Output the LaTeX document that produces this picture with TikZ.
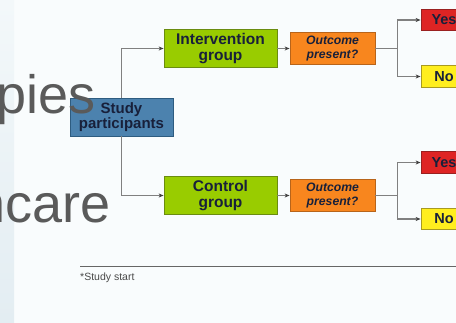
\documentclass[tikz,border=0pt]{standalone}
\usepackage{fontspec}
\setmainfont{Liberation Sans}
\usepackage{tikz}
\usetikzlibrary{arrows.meta, positioning, calc}

\definecolor{slideBack}{HTML}{F9FCFD}
\definecolor{stripTop}{HTML}{F3F8FA}
\definecolor{stripBottom}{HTML}{E3EDF2}
\definecolor{slideGray}{HTML}{5A5A5A}
\definecolor{studyBlue}{HTML}{4C82AE}
\definecolor{studyEdge}{HTML}{2E5C80}
\definecolor{groupGreen}{HTML}{99CC00}
\definecolor{groupEdge}{HTML}{6A8C10}
\definecolor{outcomeOrange}{HTML}{F8861E}
\definecolor{outcomeEdge}{HTML}{B8641A}
\definecolor{yesRed}{HTML}{DE2424}
\definecolor{yesEdge}{HTML}{9A2020}
\definecolor{noYellow}{HTML}{FFEE1E}
\definecolor{noEdge}{HTML}{A89A20}
\definecolor{boxText}{HTML}{18203A}
\definecolor{linkGray}{HTML}{808080}
\definecolor{noteGray}{HTML}{4A4A4A}

\begin{document}
\begin{tikzpicture}[x=1pt, y=-1pt,
    box/.style={draw, line width=0.8pt, inner sep=0pt, align=center, text=boxText},
    groupbox/.style={box, minimum width=113pt, minimum height=38pt,
        font=\fontsize{15.5}{16}\selectfont\bfseries},
    outbox/.style={box, fill=outcomeOrange, draw=outcomeEdge, minimum width=85pt, minimum height=32pt,
        font=\fontsize{12.2}{13.5}\selectfont\bfseries\itshape},
    answer/.style={box, minimum width=46pt, minimum height=21.5pt,
        font=\fontsize{14.5}{16}\selectfont\bfseries},
    link/.style={draw=linkGray, line width=1.2pt, -{Stealth[length=5pt, width=4pt, color=black!75]}}]
    % ══ FONDO ══
    \clip (0,0) rectangle (456,323);
    \fill[slideBack] (0,0) rectangle (456,323);
    \shade[top color=stripTop, bottom color=stripBottom] (0,0) rectangle (14,323);

    % ══ CAJAS ══
    \node[box, fill=studyBlue, draw=studyEdge, minimum width=103pt, minimum height=38pt,
        font=\fontsize{15}{15}\selectfont\bfseries] (study) at (121.5,117) {Study\\participants};

    \node[groupbox, fill=groupGreen, draw=groupEdge] (inter) at (220.5,48.5) {Intervention\\group};
    \node[groupbox, fill=groupGreen, draw=groupEdge] (control) at (220.5,195.5) {Control\\group};

    \node[outbox] (outInter) at (332.5,48.5) {Outcome\\present?};
    \node[outbox] (outControl) at (332.5,195.5) {Outcome\\present?};

    \node[answer, fill=yesRed, draw=yesEdge] (yesInter) at (444,20) {Yes};
    \node[answer, fill=noYellow, draw=noEdge] (noInter) at (444,76.5) {No};
    \node[answer, fill=yesRed, draw=yesEdge] (yesControl) at (444,162.5) {Yes};
    \node[answer, fill=noYellow, draw=noEdge] (noControl) at (444,219) {No};

    % ══ CONECTORES ══
    \draw[link] (study.north) |- (inter.west);
    \draw[link] (study.south) |- (control.west);
    \draw[link] (inter.east) -- (outInter.west);
    \draw[link] (control.east) -- (outControl.west);

    % Bifurcaciones Yes / No
    \draw[draw=linkGray, line width=1.2pt] (outInter.east) -- ++(22,0) coordinate (forkInter);
    \draw[link] (forkInter) |- (yesInter.west);
    \draw[link] (forkInter) |- (noInter.west);
    \draw[draw=linkGray, line width=1.2pt] (outControl.east) -- ++(22,0) coordinate (forkControl);
    \draw[link] (forkControl) |- (yesControl.west);
    \draw[link] (forkControl) |- (noControl.west);

    % ══ NOTA AL PIE ══
    \draw[black!60, line width=0.9pt] (80,266) -- (456,266);
    \node[anchor=base west, inner sep=0pt, text=noteGray, font=\fontsize{10.5}{12}\selectfont] (note) at (80,281) {*Study start};

    % ══ TEXTO DE LA DIAPOSITIVA ══
    \node[anchor=base east, inner sep=0pt, text=slideGray, font=\fontsize{54}{54}\selectfont] (pies) at (96,113.5) {pies};
    \node[anchor=base east, inner sep=0pt, text=slideGray, font=\fontsize{54}{54}\selectfont] (ncare) at (111,223) {ncare};
\end{tikzpicture}
\end{document}
